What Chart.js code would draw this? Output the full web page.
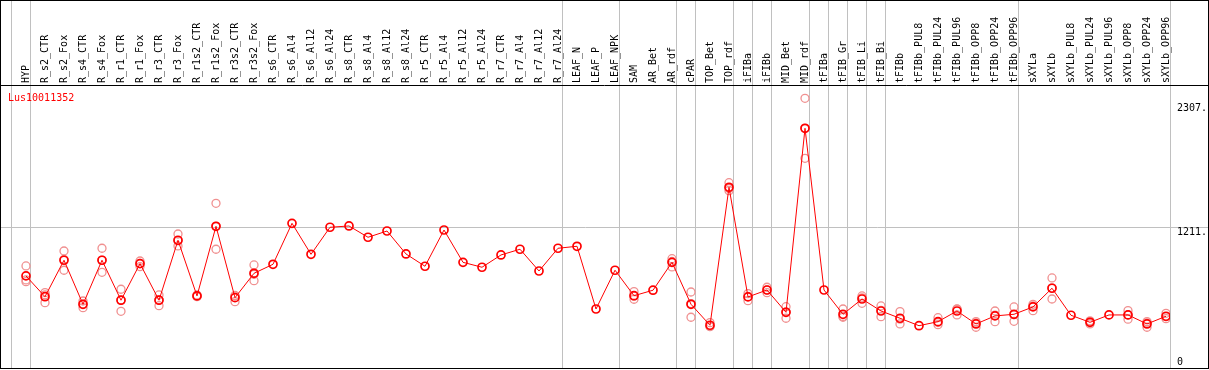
<!DOCTYPE html>
<html><head><meta charset="utf-8">
<script src="https://cdn.jsdelivr.net/npm/chart.js@4.4.1/dist/chart.umd.min.js"></script>
<style>html,body{margin:0;padding:0;background:#fff;overflow:hidden}canvas{display:block}</style>
</head><body>
<canvas id="c" width="1209" height="370"></canvas>
<script>
const chartTitle = 'Lus10011352';
const categories = ['HYP','R_s2_CTR','R_s2_Fox','R_s4_CTR','R_s4_Fox','R_r1_CTR','R_r1_Fox','R_r3_CTR','R_r3_Fox','R_r1s2_CTR','R_r1s2_Fox','R_r3s2_CTR','R_r3s2_Fox','R_s6_CTR','R_s6_Al4','R_s6_Al12','R_s6_Al24','R_s8_CTR','R_s8_Al4','R_s8_Al12','R_s8_Al24','R_r5_CTR','R_r5_Al4','R_r5_Al12','R_r5_Al24','R_r7_CTR','R_r7_Al4','R_r7_Al12','R_r7_Al24','LEAF_N','LEAF_P','LEAF_NPK','SAM','AR_Bet','AR_rdf','cPAR','TOP_Bet','TOP_rdf','iFIBa','iFIBb','MID_Bet','MID_rdf','tFIBa','tFIB_Gr','tFIB_Li','tFIB_Bi','tFIBb','tFIBb_PUL8','tFIBb_PUL24','tFIBb_PUL96','tFIBb_OPP8','tFIBb_OPP24','tFIBb_OPP96','sXYLa','sXYLb','sXYLb_PUL8','sXYLb_PUL24','sXYLb_PUL96','sXYLb_OPP8','sXYLb_OPP24','sXYLb_OPP96'];
const means = [774,585,917,516,917,553,886,553,1099,592,1226,576,798,880,1253,971,1217,1229,1126,1183,974,862,1192,898,853,965,1017,819,1026,1044,473,826,594,644,898,516,325,1581,583,646,443,2118,646,425,564,455,389,321,358,455,337,410,425,492,662,416,352,419,419,337,407];
const rep1 = [865,622,1001,546,1026,653,910,601,1156,601,1435,592,874,null,null,null,null,null,null,null,null,null,null,null,null,null,null,null,null,null,null,null,631,null,931,628,349,1623,613,671,494,2391,null,473,592,501,449,null,394,471,358,455,492,516,756,null,365,null,458,358,434];
const rep2 = [738,602,924,517,918,554,889,555,1094,590,1226,596,789,null,null,null,null,null,null,null,null,null,null,null,null,null,null,null,null,null,null,null,590,null,906,522,313,1570,587,646,446,2118,null,405,575,461,381,null,350,475,346,417,422,502,666,null,355,null,419,346,402];
const rep3 = [722,531,826,485,807,452,859,503,1047,585,1017,540,731,null,null,null,null,null,null,null,null,null,null,null,null,null,null,null,null,null,null,null,562,null,856,398,313,1550,549,622,389,1845,null,398,525,403,337,null,330,419,307,358,361,458,564,null,337,null,380,307,385];
const separatorsAfter = [-1,0,28,31,34,35,37,38,39,41,42,43,44,45,52,60];
const yTickValues = [0, 1211, 2307];
const yTickLabels = ['0', '1211.', '2307.'];

const FONT = "'DejaVu Sans Mono', monospace";
const SEP_SHIFT = 4/19;
const X_MIN = -25/19, X_MAX = -25/19 + 1169/19;
const GRID = '#c0c0c0';
const NONE = 'rgba(0,0,0,0)';

const toPoints = arr => arr.map((v, i) => ({x: i, y: v}));
const repStyle = {showLine:false, pointRadius:4, pointBorderWidth:1.3, pointBorderColor:'#f09090', pointBackgroundColor:NONE, borderColor:'#f09090', order:1};

const framePlugin = {
  id: 'frame',
  afterDraw(chart) {
    const c = chart.ctx;
    c.save();
    c.strokeStyle = '#000'; c.lineWidth = 1;
    c.strokeRect(0.5, 0.5, 1208, 368);
    c.beginPath(); c.moveTo(0, 85.5); c.lineTo(1209, 85.5); c.stroke();
    c.fillStyle = '#ff0000';
    c.font = "10px 'DejaVu Sans Mono'";
    c.textBaseline = 'alphabetic';
    c.textAlign = 'left';
    c.fillText(chartTitle, 8, 101);
    c.restore();
  }
};

new Chart(document.getElementById('c'), {
  type: 'line',
  data: {
    datasets: [
      {label:'mean', data: toPoints(means), borderColor:'#ff0000', borderWidth:1, pointRadius:4, pointBorderWidth:1.7, pointBorderColor:'#ff0000', pointBackgroundColor:NONE, tension:0, order:0},
      Object.assign({label:'rep1', data: toPoints(rep1)}, repStyle),
      Object.assign({label:'rep2', data: toPoints(rep2)}, repStyle),
      Object.assign({label:'rep3', data: toPoints(rep3)}, repStyle)
    ]
  },
  options: {
    responsive: false,
    animation: false,
    devicePixelRatio: 1,
    layout: {autoPadding: false, padding: {left:1, right:1, top:0, bottom:2}},
    plugins: {legend:{display:false}, tooltip:{enabled:false}, title:{display:false}},
    scales: {
      x: {
        type: 'linear', position: 'top', min: X_MIN, max: X_MAX,
        afterBuildTicks: s => {
          const vals = categories.map((c, i) => i).concat(separatorsAfter.map(i => i + SEP_SHIFT));
          vals.sort((a, b) => a - b);
          s.ticks = vals.map(v => ({value: v}));
        },
        afterFit: s => { s.height = 86; s.paddingLeft = 0; s.paddingRight = 0; },
        ticks: {
          autoSkip: false, minRotation: 90, maxRotation: 90, padding: -83, labelOffset: 12,
          font: {family: FONT, size: 10}, color: '#000',
          callback: v => Number.isInteger(v) ? categories[v] : ''
        },
        grid: {
          color: ctx => (ctx.tick && !Number.isInteger(ctx.tick.value)) ? GRID : NONE,
          lineWidth: 1, drawTicks: true, tickLength: 86
        },
        border: {display: false}
      },
      y: {
        type: 'linear', position: 'right', min: -64, max: 2503,
        afterBuildTicks: s => { s.ticks = yTickValues.map(v => ({value: v})); },
        afterFit: s => { s.width = 38; s.paddingTop = 0; s.paddingBottom = 0; },
        ticks: {
          autoSkip: false, padding: -31, color: '#000', labelOffset: 1,
          font: ctx => ({family: FONT, size: 10, lineHeight: (ctx.tick && ctx.tick.value === 1211) ? '7px' : 1.2}),
          callback: v => {
            const idx = yTickValues.indexOf(v);
            const lab = yTickLabels[idx];
            return v === 1211 ? ['', lab] : lab;
          }
        },
        grid: {
          color: ctx => (ctx.tick && ctx.tick.value === 1211) ? GRID : NONE,
          lineWidth: 1, drawTicks: true, tickLength: 38
        },
        border: {display: false}
      }
    }
  },
  plugins: [framePlugin]
});
</script>
</body></html>
